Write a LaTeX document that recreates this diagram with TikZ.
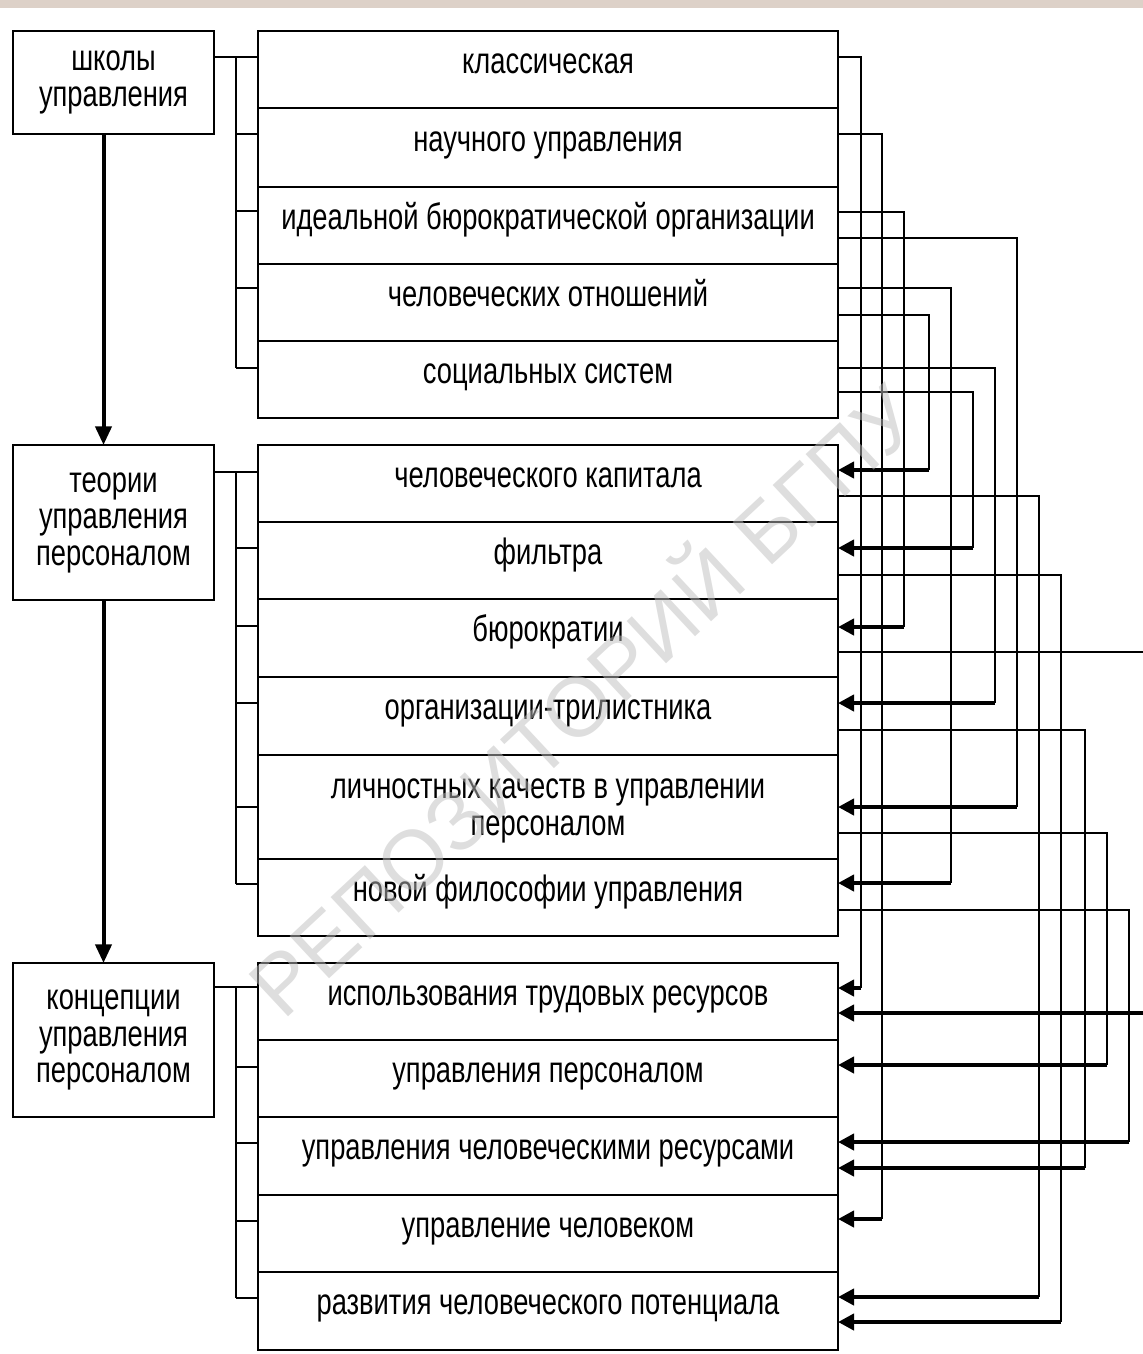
\documentclass[tikz,border=0pt]{standalone}
\usepackage{fontspec}
\setmainfont{Liberation Sans}[FakeStretch=0.745]
\newfontfamily\wmfont{Liberation Sans}
\usetikzlibrary{arrows.meta,calc}
\definecolor{band}{RGB}{221,209,200}
\tikzset{
  line/.style={line width=1.3pt},
  rowbox/.style={draw,line width=1.3pt,anchor=north west,inner sep=0pt,outer sep=0pt,minimum width=435pt,align=center,font={\fontsize{27.5}{27.4}\selectfont}},
  oneline/.style={text height=14pt,text depth=8.75pt},
  headbox/.style={draw,line width=1.3pt,anchor=north west,inner sep=0pt,outer sep=0pt,minimum width=150.75pt,align=center,font={\fontsize{27.5}{27.4}\selectfont}},
  into/.style={line width=3pt,-{Triangle[length=12pt,width=12pt]}},
  down/.style={line width=3pt,-{Triangle[length=14pt,width=12pt]}},
  watermark/.style={font={\wmfont\fontsize{63}{63}\selectfont},text=black!26,text opacity=0.5,rotate=43}
}
\begin{document}
\begin{tikzpicture}[x=0.75pt,y=0.75pt,yscale=-1]
\useasboundingbox (0,0) rectangle (1143,1354);
\clip (0,0) rectangle (1143,1354);

%Shape: Rectangle
\fill[band] (0,0) rectangle (1143,8);

% left column
\node[headbox,minimum height=77.25pt] (sch) at (13,31) {школы\\управления};
\node[headbox,minimum height=116.25pt] (teo) at (13,445) {теории\\управления\\персоналом};
\node[headbox,minimum height=115.5pt] (con) at (13,963) {концепции\\управления\\персоналом};

% schools
\node[rowbox,oneline,minimum height=57.75pt] (k1) at (258,31) {классическая};
\node[rowbox,oneline,minimum height=59.25pt] (k2) at (258,108) {научного управления};
\node[rowbox,oneline,minimum height=57.75pt] (k3) at (258,187) {идеальной бюрократической организации};
\node[rowbox,oneline,minimum height=57.75pt] (k4) at (258,264) {человеческих отношений};
\node[rowbox,oneline,minimum height=57.75pt] (k5) at (258,341) {социальных систем};

% theories
\node[rowbox,oneline,minimum height=57.75pt] (t1) at (258,445) {человеческого капитала};
\node[rowbox,oneline,minimum height=57.75pt] (t2) at (258,522) {фильтра};
\node[rowbox,oneline,minimum height=58.5pt] (t3) at (258,599) {бюрократии};
\node[rowbox,oneline,minimum height=58.5pt] (t4) at (258,677) {организации-трилистника};
\node[rowbox,minimum height=78pt] (t5) at (258,755) {\rule{0pt}{21pt}личностных качеств в управлении\\персоналом};
\node[rowbox,oneline,minimum height=57.75pt] (t6) at (258,859) {новой философии управления};

% concepts
\node[rowbox,oneline,minimum height=57.75pt] (c1) at (258,963) {использования трудовых ресурсов};
\node[rowbox,oneline,minimum height=57.75pt] (c2) at (258,1040) {управления персоналом};
\node[rowbox,oneline,minimum height=58.5pt] (c3) at (258,1117) {управления человеческими ресурсами};
\node[rowbox,oneline,minimum height=57.75pt] (c4) at (258,1195) {управление человеком};
\node[rowbox,oneline,minimum height=58.5pt] (c5) at (258,1272) {развития человеческого потенциала};

%Straight Lines
\draw[down] ([xshift=-7.5pt]sch.south) -- ([xshift=-7.5pt]teo.north);
\draw[down] ([xshift=-7.5pt]teo.south) -- ([xshift=-7.5pt]con.north);

% brackets
\draw[line] ($(sch.north east)+(0,26)$) -- ($(k1.north west)+(0,26)$);
\draw[line] ($(k1.north west)+(-22,26)$) -- ($(k5.north west)+(-22,27)$);
\foreach \r/\o in {k1/26,k2/26,k3/24,k4/24,k5/27}
  \draw[line] ($(\r.north west)+(-22,\o)$) -- ($(\r.north west)+(0,\o)$);

\draw[line] ($(teo.north east)+(0,27)$) -- ($(t1.north west)+(0,27)$);
\draw[line] ($(t1.north west)+(-22,27)$) -- ($(t6.north west)+(-22,25)$);
\foreach \r/\o in {t1/27,t2/26,t3/27,t4/26,t5/52,t6/25}
  \draw[line] ($(\r.north west)+(-22,\o)$) -- ($(\r.north west)+(0,\o)$);

\draw[line] ($(con.north east)+(0,24)$) -- ($(c1.north west)+(0,24)$);
\draw[line] ($(c1.north west)+(-22,24)$) -- ($(c5.north west)+(-22,26)$);
\foreach \r/\o in {c1/24,c2/27,c3/26,c4/26,c5/26}
  \draw[line] ($(\r.north west)+(-22,\o)$) -- ($(\r.north west)+(0,\o)$);

% cross links, right side
\foreach \src/\sy/\cx/\dst/\dy in {k1/26/23/c1/25, k2/26/44/c4/24, k3/25/66/t3/28,
    k3/51/179/t5/52, k4/24/113/t6/24, k4/51/91/t1/25, k5/27/157/t4/26,
    k5/51/135/t2/26, t1/51/201/c5/25, t2/53/223/c5/50, t3/53/330/c1/50,
    t4/53/247/c3/51, t5/78/269/c2/25, t6/51/291/c3/25}{
  \draw[line] ($(\src.north east)+(0,\sy)$) -| ($(\dst.north east)+(\cx,\dy)$);
  \draw[into] ($(\dst.north east)+(\cx,\dy)$) -- ($(\dst.north east)+(0,\dy)$);
}

% Text Node
\node[watermark] (wm) at (578,695) {РЕПОЗИТОРИЙ БГПУ};

\end{tikzpicture}
\end{document}
